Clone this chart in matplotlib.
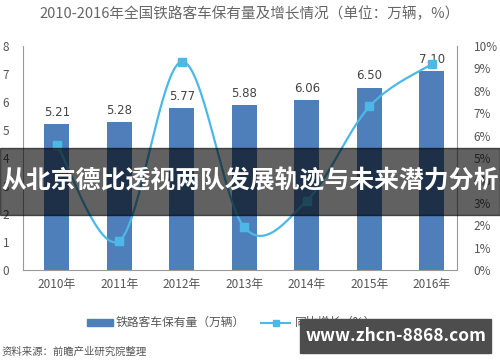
import matplotlib.pyplot as plt
import numpy as np
from matplotlib.patches import Rectangle

years = ["2010年", "2011年", "2012年", "2013年", "2014年", "2015年", "2016年"]
stock = [5.21, 5.28, 5.77, 5.88, 6.06, 6.50, 7.10]
growth = [5.6, 1.3, 9.3, 1.9, 3.1, 7.3, 9.2]
right_labels = ["0%", "1%", "2%", "3%", "4%", "5%", "6%", "7%", "8%", "9%", "10%"]

plt.rcParams['font.family'] = ['Noto Sans CJK SC', 'DejaVu Sans']

BAR = "#4f7fba"
LINE = "#4cb8e8"
GREY = "#555555"


def smooth_path(x, y, n=40):
    # Catmull-Rom style bezier path through the points (drawing only)
    x = np.asarray(x, float)
    y = np.asarray(y, float)
    px = np.concatenate([[x[0]], x, [x[-1]]])
    py = np.concatenate([[y[0]], y, [y[-1]]])
    t = np.linspace(0, 1, n)[:, None]
    xs, ys = [], []
    for i in range(1, len(px) - 2):
        p0 = np.array([px[i], py[i]])
        p3 = np.array([px[i + 1], py[i + 1]])
        p1 = p0 + (np.array([px[i + 1], py[i + 1]]) - np.array([px[i - 1], py[i - 1]])) / 6
        p2 = p3 - (np.array([px[i + 2], py[i + 2]]) - np.array([px[i], py[i]])) / 6
        pts = ((1 - t) ** 3) * p0 + 3 * ((1 - t) ** 2) * t * p1 \
            + 3 * (1 - t) * t ** 2 * p2 + t ** 3 * p3
        xs.append(pts[:, 0])
        ys.append(pts[:, 1])
    return np.concatenate(xs), np.concatenate(ys)


fig = plt.figure(figsize=(5, 3.62), dpi=100)
ax = fig.add_axes([0.046, 0.254, 0.868, 0.619])
x = np.arange(len(years))

ax.bar(x, stock, width=0.4, color=BAR, zorder=2)
for xi, v in zip(x, stock):
    ax.text(xi, v + 0.2, f"{v:.2f}", ha="center", va="bottom",
            fontsize=8.5, color="#444444", family="DejaVu Sans")

ax.set_xlim(-0.54, 6.4)
ax.set_ylim(0, 8)
ax.set_yticks(range(9))
ax.set_xticks(x)
ax.set_xticklabels(years, fontsize=8.5, color=GREY)
ax.tick_params(axis="x", length=0, pad=6)
ax.tick_params(axis="y", length=0, labelsize=8.5, labelcolor=GREY, pad=10)
for s in ["top", "right"]:
    ax.spines[s].set_visible(False)
ax.spines["left"].set_color("#999999")
ax.spines["bottom"].set_color("#999999")

ax2 = ax.twinx()
ax2.set_ylim(0, 10)
ax2.set_yticks(range(11))
ax2.set_yticklabels(right_labels)
ax2.tick_params(axis="y", length=0, labelsize=8.5, labelcolor=GREY, pad=12)
for s in ["top", "left", "bottom"]:
    ax2.spines[s].set_visible(False)
ax2.spines["right"].set_color("#999999")
xs, ys = smooth_path(x, growth)
ax2.plot(xs, ys, color=LINE, lw=1.6, zorder=3)
ax2.plot(x, growth, "s", color=LINE, markersize=6, zorder=4)

fig.text(0.5, 0.963, "2010-2016年全国铁路客车保有量及增长情况（单位：万辆，%）",
         ha="center", va="center", fontsize=10.5, color="#666666")

# legend
fig.patches.append(Rectangle((0.174, 0.100), 0.052, 0.018, color=BAR,
                             transform=fig.transFigure))
fig.text(0.232, 0.109, "铁路客车保有量（万辆）", ha="left", va="center",
         fontsize=8.5, color=GREY)
fig.lines.append(plt.Line2D([0.522, 0.58], [0.109, 0.109], color=LINE, lw=1.5,
                            transform=fig.transFigure))
fig.lines.append(plt.Line2D([0.551], [0.109], marker="s", color=LINE,
                            markersize=5, transform=fig.transFigure))
fig.text(0.59, 0.109, "同比增长（%）", ha="left", va="center",
         fontsize=8.5, color=GREY)

fig.text(0.004, 0.028, "资料来源：前瞻产业研究院整理", ha="left", va="center",
         fontsize=7.5, color=GREY)

# overlay banner
fig.patches.append(Rectangle((0, 0.406), 1, 0.185, color="black", alpha=0.62,
                             transform=fig.transFigure, zorder=10))
fig.text(0.5, 0.498, "从北京德比透视两队发展轨迹与未来潜力分析", ha="center",
         va="center", fontsize=17.9, color="white", weight="bold", zorder=11)

# watermark
fig.patches.append(Rectangle((0.6, 0.025), 0.382, 0.094, color="#4d4d4d",
                             transform=fig.transFigure, zorder=10))
fig.text(0.791, 0.072, "www.zhcn-8868.com", ha="center", va="center",
         fontsize=12.5, color="white", weight="bold", zorder=11)

fig.savefig("out.png", dpi=100)
